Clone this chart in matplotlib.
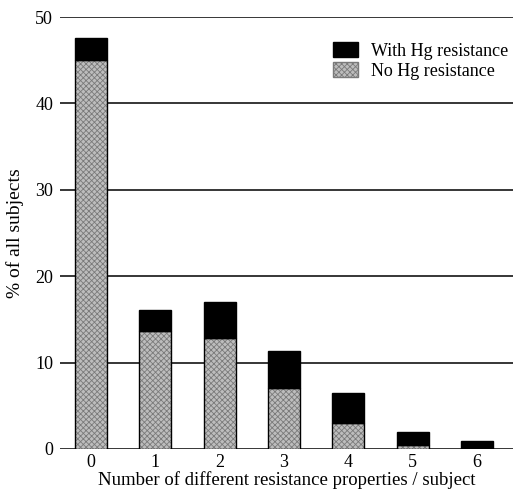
import matplotlib.pyplot as plt
import matplotlib.patches as mpatches
import numpy as np

plt.rcParams['font.family'] = ['Liberation Serif', 'DejaVu Serif']
plt.rcParams['hatch.linewidth'] = 0.6

n_props = [0, 1, 2, 3, 4, 5, 6]
no_hg = [45.0, 13.6, 12.8, 7.1, 3.0, 0.4, 0.0]
total = [47.6, 16.1, 17.0, 11.3, 6.5, 2.0, 0.9]
with_hg = [t - n for t, n in zip(total, no_hg)]

fig = plt.figure(figsize=(5.13, 4.9), dpi=100)
ax = fig.add_axes([0.117, 0.084, 0.883, 0.881])

x = np.array(n_props)
# grey hatched part, then a black outline on top
ax.bar(x, no_hg, width=0.5, color='#bdbdbd', edgecolor='#7a7a7a', hatch='xxxxxx',
       linewidth=0, zorder=3)
ax.bar(x, no_hg, width=0.5, fill=False, edgecolor='black', linewidth=1, zorder=4)
ax.bar(x, with_hg, bottom=no_hg, width=0.5, color='black', edgecolor='black',
       linewidth=1, zorder=4)

ax.set_xlim(-0.48, 6.56)
ax.set_ylim(0, 50)
ax.set_yticks([0, 10, 20, 30, 40, 50])
ax.set_xticks(n_props)
ax.yaxis.grid(True, color='black', linewidth=1.1, zorder=0)
ax.set_axisbelow(True)
for s in ax.spines.values():
    s.set_visible(False)
ax.tick_params(length=0, labelsize=13, pad=5)
ax.tick_params(axis='x', pad=4)

ax.set_xlabel('Number of different resistance properties / subject', fontsize=13.5, labelpad=0)
ax.set_ylabel('% of all subjects', fontsize=14, labelpad=8)

h_with = mpatches.Patch(facecolor='black', edgecolor='black', label='With Hg resistance')
h_no = mpatches.Patch(facecolor='#bdbdbd', edgecolor='#7a7a7a', hatch='xxxxxx',
                      label='No Hg resistance')
ax.legend(handles=[h_with, h_no], loc='upper right', frameon=False, fontsize=13,
          bbox_to_anchor=(1.025, 0.98), handlelength=1.4, handleheight=0.9,
          labelspacing=0.15, handletextpad=0.7)

plt.savefig('out.png', dpi=100)
